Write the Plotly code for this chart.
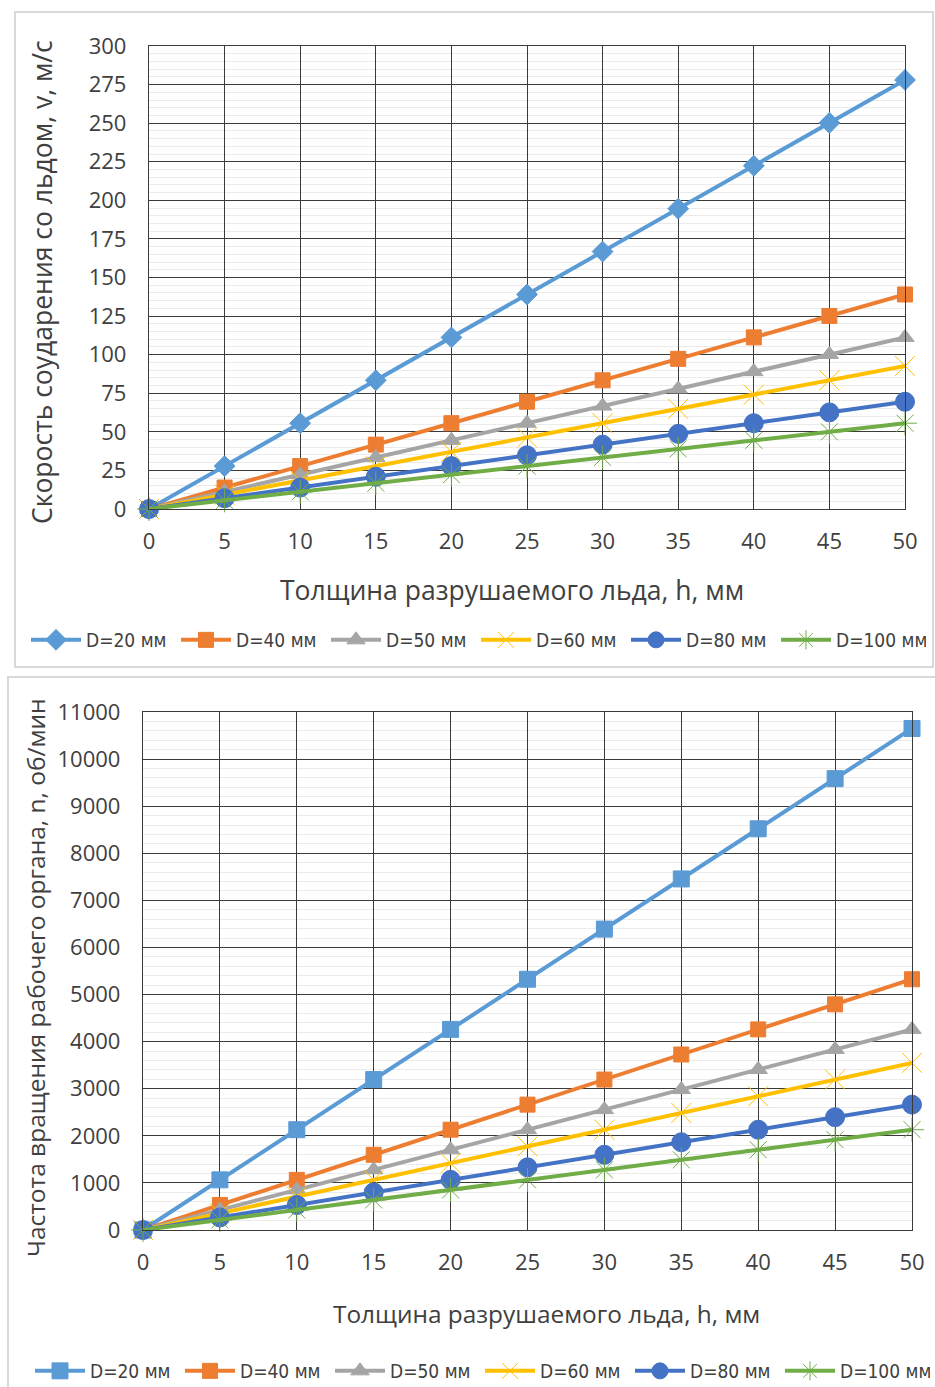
import plotly.graph_objects as go

W, H = 935, 1387

h = [0, 5, 10, 15, 20, 25, 30, 35, 40, 45, 50]
series_names = ["D=20 мм", "D=40 мм", "D=50 мм", "D=60 мм", "D=80 мм", "D=100 мм"]

v20 = [0, 27.8, 55.6, 83.4, 111.2, 139.0, 166.8, 194.6, 222.4, 250.2, 278.0]
v40 = [0, 13.9, 27.8, 41.7, 55.6, 69.5, 83.4, 97.3, 111.2, 125.1, 139.0]
v50 = [0, 11.1, 22.2, 33.4, 44.5, 55.6, 66.7, 77.8, 89.0, 100.1, 111.2]
v60 = [0, 9.3, 18.5, 27.8, 37.1, 46.3, 55.6, 64.9, 74.1, 83.4, 92.7]
v80 = [0, 7.0, 13.9, 20.9, 27.8, 34.8, 41.7, 48.7, 55.6, 62.6, 69.5]
v100 = [0, 5.6, 11.1, 16.7, 22.2, 27.8, 33.4, 38.9, 44.5, 50.0, 55.6]

n20 = [0, 1065, 2130, 3195, 4260, 5325, 6390, 7455, 8520, 9585, 10650]
n40 = [0, 532, 1065, 1597, 2130, 2662, 3195, 3727, 4260, 4792, 5325]
n50 = [0, 426, 852, 1278, 1704, 2130, 2556, 2982, 3408, 3834, 4260]
n60 = [0, 355, 710, 1065, 1420, 1775, 2130, 2485, 2840, 3195, 3550]
n80 = [0, 266, 532, 799, 1065, 1331, 1597, 1864, 2130, 2396, 2662]
n100 = [0, 213, 426, 639, 852, 1065, 1278, 1491, 1704, 1917, 2130]

title_top_y = "Скорость соударения со льдом, v, м/с"
title_bot_y = "Частота вращения рабочего органа, n, об/мин"
title_x = "Толщина разрушаемого льда, h, мм"

colors = ["#5B9BD5", "#ED7D31", "#A5A5A5", "#FFC000", "#4472C4", "#70AD47"]
sym_top = ["diamond", "square", "triangle-up", "x-thin-open", "circle", "asterisk-open"]
sym_bot = ["square", "square", "triangle-up", "x-thin-open", "circle", "asterisk-open"]
sizes = [16, 15, 16, 20, 19, 20]

def px(x):
    return x / W

def py(y):
    return 1 - y / H

fig = go.Figure()

for i, ys in enumerate([v20, v40, v50, v60, v80, v100]):
    fig.add_trace(go.Scatter(
        x=h, y=ys, name=series_names[i], mode="lines+markers",
        line=dict(color=colors[i], width=4),
        marker=dict(symbol=sym_top[i], size=sizes[i], color=colors[i],
                    line=dict(color=colors[i], width=1)),
        xaxis="x", yaxis="y", legend="legend", cliponaxis=False))

for i, ys in enumerate([n20, n40, n50, n60, n80, n100]):
    fig.add_trace(go.Scatter(
        x=h, y=ys, name=series_names[i], mode="lines+markers",
        line=dict(color=colors[i], width=4),
        marker=dict(symbol=sym_bot[i], size=sizes[i], color=colors[i],
                    line=dict(color=colors[i], width=1)),
        xaxis="x2", yaxis="y2", legend="legend2", cliponaxis=False))

tickfont = dict(family="Open Sans, sans-serif", size=22, color="#404040")
gridc = "#3a3a3a"

def xaxis(dom, anchor):
    return dict(domain=dom, anchor=anchor, range=[0, 50], dtick=5, tick0=0,
                showgrid=True, gridcolor=gridc, gridwidth=1.3,
                showline=True, linecolor=gridc, linewidth=1.3, mirror=True,
                zeroline=False, ticks="", tickfont=tickfont,
                ticklabelstandoff=12)

def yaxis(dom, anchor, rng, dt, mdt):
    return dict(domain=dom, anchor=anchor, range=rng, dtick=dt, tick0=0,
                showgrid=True, gridcolor=gridc, gridwidth=1.3,
                showline=True, linecolor=gridc, linewidth=1.3, mirror=True,
                zeroline=False, ticks="", tickfont=tickfont, tickformat="d",
                ticklabelstandoff=17,
                minor=dict(dtick=mdt, showgrid=True, gridcolor="#ebebeb", gridwidth=1))

legfont = dict(family="Liberation Sans Narrow, DejaVu Sans Condensed, sans-serif", size=19, color="#404040")

fig.update_layout(
    width=W, height=H, margin=dict(l=0, r=0, t=0, b=0, autoexpand=False),
    paper_bgcolor="white", plot_bgcolor="white",
    xaxis=xaxis([px(149), px(905)], "y"),
    yaxis=yaxis([py(509), py(46)], "x", [0, 300], 25, 5),
    xaxis2=xaxis([px(143), px(912)], "y2"),
    yaxis2=yaxis([py(1230), py(712)], "x2", [0, 11000], 1000, 200),
    legend=dict(orientation="h", x=px(26), y=py(640), yanchor="middle", xanchor="left",
                font=legfont, entrywidth=85, entrywidthmode="pixels",
                itemwidth=50, tracegroupgap=0, bgcolor="rgba(0,0,0,0)"),
    legend2=dict(orientation="h", x=px(30), y=py(1371), yanchor="middle", xanchor="left",
                 font=legfont, entrywidth=85, entrywidthmode="pixels",
                 itemwidth=50, tracegroupgap=0, bgcolor="rgba(0,0,0,0)"),
    shapes=[
        dict(type="rect", xref="paper", yref="paper", x0=px(15), x1=px(933),
             y0=py(667), y1=py(12), line=dict(color="#d9d9d9", width=2)),
        dict(type="rect", xref="paper", yref="paper", x0=px(8), x1=px(945),
             y0=py(1400), y1=py(677), line=dict(color="#d9d9d9", width=2)),
    ],
    annotations=[
        dict(text=title_top_y, xref="paper", yref="paper", x=px(42), y=py(282),
             textangle=-90, showarrow=False, xanchor="center", yanchor="middle",
             font=dict(family="Open Sans, sans-serif", size=26.5, color="#404040")),
        dict(text=title_x, xref="paper", yref="paper", x=px(512), y=py(590),
             showarrow=False, xanchor="center", yanchor="middle",
             font=dict(family="Open Sans, sans-serif", size=26.5, color="#404040")),
        dict(text=title_bot_y, xref="paper", yref="paper", x=px(35), y=py(978),
             textangle=-90, showarrow=False, xanchor="center", yanchor="middle",
             font=dict(family="Open Sans, sans-serif", size=24.5, color="#404040")),
        dict(text=title_x, xref="paper", yref="paper", x=px(546), y=py(1313),
             showarrow=False, xanchor="center", yanchor="middle",
             font=dict(family="Open Sans, sans-serif", size=24.4, color="#404040")),
    ],
)

fig.write_html("out.html")
